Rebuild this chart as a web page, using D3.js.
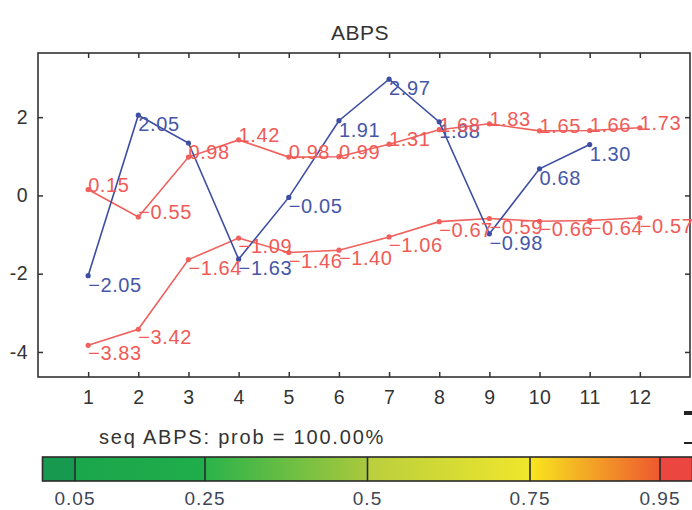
<!DOCTYPE html>
<html>
<head>
<meta charset="utf-8">
<script src="https://cdn.jsdelivr.net/npm/d3@7"></script>
<style>
  body { margin: 0; background: #fff; }
  svg { display: block; }
  text { font-family: "Liberation Sans", Arial, Helvetica, sans-serif; }
</style>
</head>
<body>
<svg id="chart" width="692" height="510"></svg>
<script>
// Sequence positions and the three traced series
const categories = [1, 2, 3, 4, 5, 6, 7, 8, 9, 10, 11, 12];
const blueValues = [-2.05, 2.05, 1.34, -1.63, -0.05, 1.91, 2.97, 1.88, -0.98, 0.68, 1.30];
const blueUnlabeled = [3];
const redUpperValues = [0.15, -0.55, 0.98, 1.42, 0.98, 0.99, 1.31, 1.68, 1.83, 1.65, 1.66, 1.73];
const redLowerValues = [-3.83, -3.42, -1.64, -1.09, -1.46, -1.40, -1.06, -0.67, -0.59, -0.66, -0.64, -0.57];
const yTicks = [-4, -2, 0, 2];

// Probability colour bar
const probBreaks = [0.05, 0.25, 0.5, 0.75, 0.95];
const probLabels = ["0.05", "0.25", "0.5", "0.75", "0.95"];
const bandEdges = [0, 0.05, 0.25, 0.5, 0.75, 0.95, 1];
const bandColors = [
  ["#17994f", "#17994f"],
  ["#1aa64b", "#20ad4b"],
  ["#2ab34a", "#a9c93c"],
  ["#b9cf3d", "#f0e62c"],
  ["#f8e61e", "#ee582f"],
  ["#ec4641", "#ec4641"]
];

const titleText = "ABPS";
const probText = "seq ABPS: prob = 100.00%";

const svg = d3.select("#chart");
const ink = "#333";
const blue = "#3d4ea3";
const blueText = "#4657a8";
const red = "#f0605c";
const redText = "#f05a57";

const x = d3.scaleLinear().domain([0, 13]).range([38, 690]);
const y = d3.scaleLinear().domain([-4.64, 3.64]).range([377, 53]);

const fmt = v => d3.format(".2f")(v).replace("\u2212", "-").replace("-", "\u2212");

// Title
svg.append("text")
  .attr("x", 360).attr("y", 40)
  .attr("text-anchor", "middle")
  .attr("font-size", 21)
  .attr("letter-spacing", 0.5)
  .attr("fill", ink)
  .text(titleText);

// Axes with inward ticks on all four sides
const gx = svg.append("g").attr("transform", `translate(0,${y.range()[0]})`)
  .call(d3.axisBottom(x).tickValues(categories).tickSizeInner(-5).tickSizeOuter(0).tickPadding(13));
const gxTop = svg.append("g").attr("transform", `translate(0,${y.range()[1]})`)
  .call(d3.axisTop(x).tickValues(categories).tickSizeInner(-5).tickSizeOuter(0).tickFormat(""));
const gy = svg.append("g").attr("transform", `translate(${x.range()[0]},0)`)
  .call(d3.axisLeft(y).tickValues(yTicks).tickSizeInner(-5).tickSizeOuter(0).tickPadding(10)
    .tickFormat(d => String(d)));
const gyRight = svg.append("g").attr("transform", `translate(${x.range()[1]},0)`)
  .call(d3.axisRight(y).tickValues(yTicks).tickSizeInner(-5).tickSizeOuter(0).tickFormat(""));

[gx, gxTop, gy, gyRight].forEach(g => {
  g.select(".domain").remove();
  g.selectAll(".tick line").attr("stroke", ink).attr("stroke-width", 1.5);
  g.selectAll(".tick text").attr("fill", ink).attr("font-size", 19.5)
    .attr("font-family", "'Liberation Sans', Arial, sans-serif").attr("letter-spacing", 0.5);
});

svg.append("rect")
  .attr("x", x.range()[0]).attr("y", y.range()[1])
  .attr("width", x.range()[1] - x.range()[0])
  .attr("height", y.range()[0] - y.range()[1])
  .attr("fill", "none").attr("stroke", ink).attr("stroke-width", 1.6);

// Series lines and markers
const line = d3.line().x((d, i) => x(categories[i])).y(d => y(d));

function drawSeries(values, color) {
  svg.append("path").datum(values)
    .attr("d", line).attr("fill", "none")
    .attr("stroke", color).attr("stroke-width", 1.6);
  svg.append("g").selectAll("circle").data(values).join("circle")
    .attr("cx", (d, i) => x(categories[i])).attr("cy", d => y(d))
    .attr("r", 2.6).attr("fill", color);
}

drawSeries(redUpperValues, red);
drawSeries(redLowerValues, red);
drawSeries(blueValues, blue);

// Value labels next to each marker
function drawLabels(values, color, dy, skip = []) {
  const items = values.map((v, i) => ({ v, c: categories[i] }))
    .filter(d => !skip.includes(d.c));
  svg.append("g").selectAll("text").data(items).join("text")
    .attr("x", d => x(d.c))
    .attr("y", d => y(d.v) + dy)
    .attr("dy", "0.35em")
    .attr("font-size", 20)
    .attr("letter-spacing", 0.6)
    .attr("fill", color)
    .text(d => fmt(d.v));
}

drawLabels(blueValues, blueText, 9, blueUnlabeled);
drawLabels(redUpperValues, redText, -5);
drawLabels(redLowerValues, redText, 8);

// Probability caption
svg.append("text")
  .attr("x", 99).attr("y", 444)
  .attr("font-size", 20)
  .attr("letter-spacing", 1.8)
  .attr("fill", ink)
  .text(probText);

// Fragment of the neighbouring axis at the right edge
svg.append("rect").attr("x", 684).attr("y", 411).attr("width", 8).attr("height", 4).attr("fill", "#222");
svg.append("line").attr("x1", 684).attr("x2", 692).attr("y1", 443).attr("y2", 443)
  .attr("stroke", "#222").attr("stroke-width", 2);

// Colour bar
const p = d3.scaleLinear().domain([0, 1]).range([42.5, 692.5]);
const barTop = 457, barH = 24;
const defs = svg.append("defs");
bandColors.forEach((c, i) => {
  const gr = defs.append("linearGradient").attr("id", "band" + i)
    .attr("x1", "0%").attr("x2", "100%").attr("y1", "0%").attr("y2", "0%");
  gr.append("stop").attr("offset", "0%").attr("stop-color", c[0]);
  gr.append("stop").attr("offset", "100%").attr("stop-color", c[1]);
});
svg.append("g").selectAll("rect").data(bandColors).join("rect")
  .attr("x", (d, i) => p(bandEdges[i]))
  .attr("y", barTop)
  .attr("width", (d, i) => p(bandEdges[i + 1]) - p(bandEdges[i]))
  .attr("height", barH)
  .attr("fill", (d, i) => `url(#band${i})`);
svg.append("rect")
  .attr("x", p(0)).attr("y", barTop)
  .attr("width", p(1) - p(0)).attr("height", barH)
  .attr("fill", "none").attr("stroke", "#2a2a2a").attr("stroke-width", 1.6);
svg.append("g").selectAll("line").data(probBreaks).join("line")
  .attr("x1", d => p(d)).attr("x2", d => p(d))
  .attr("y1", barTop).attr("y2", barTop + barH)
  .attr("stroke", "#2a2a2a").attr("stroke-width", 1.6);
svg.append("g").selectAll("text").data(probBreaks).join("text")
  .attr("x", d => p(d)).attr("y", 505)
  .attr("text-anchor", "middle")
  .attr("font-size", 19)
  .attr("letter-spacing", 1)
  .attr("fill", "#3e4656")
  .text((d, i) => probLabels[i]);
</script>
</body>
</html>
